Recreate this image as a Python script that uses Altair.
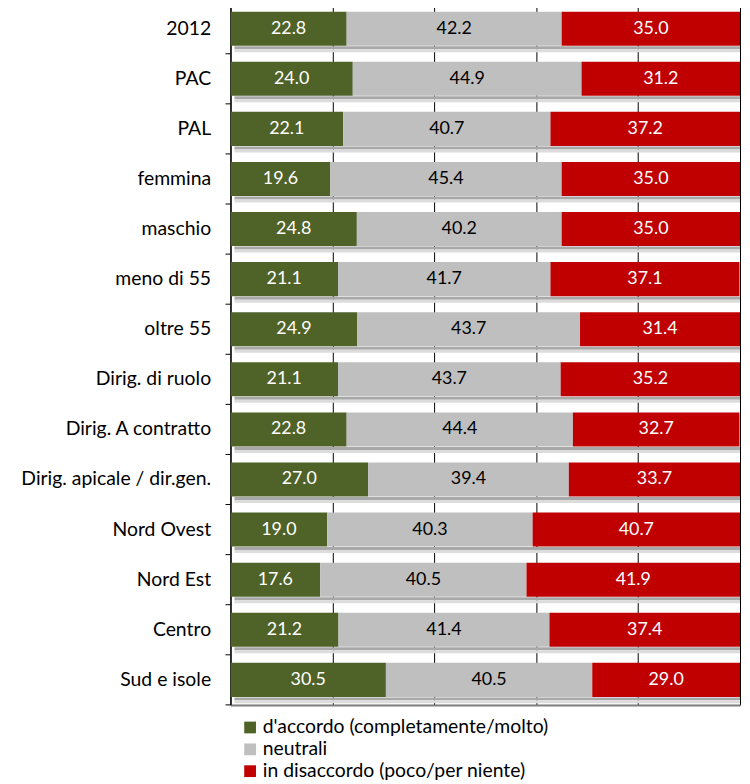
import altair as alt
import pandas as pd

categories = ["2012", "PAC", "PAL", "femmina", "maschio", "meno di 55", "oltre 55",
              "Dirig. di ruolo", "Dirig. A contratto", "Dirig. apicale / dir.gen.",
              "Nord Ovest", "Nord Est", "Centro", "Sud e isole"]
accordo = [22.8, 24.0, 22.1, 19.6, 24.8, 21.1, 24.9, 21.1, 22.8, 27.0, 19.0, 17.6, 21.2, 30.5]
neutrali = [42.2, 44.9, 40.7, 45.4, 40.2, 41.7, 43.7, 43.7, 44.4, 39.4, 40.3, 40.5, 41.4, 40.5]
disaccordo = [35.0, 31.2, 37.2, 35.0, 35.0, 37.1, 31.4, 35.2, 32.7, 33.7, 40.7, 41.9, 37.4, 29.0]
series = ["d'accordo (completamente/molto)", "neutrali", "in disaccordo (poco/per niente)"]
colors = ["#4F6228", "#BFBFBF", "#C00000"]
text_colors = ["white", "black", "white"]

rows = []
for i, c in enumerate(categories):
    start = 0.0
    for k, vals in enumerate([accordo, neutrali, disaccordo]):
        v = vals[i]
        end = min(start + v, 100.0)
        rows.append({"cat": c, "serie": series[k], "ord": k, "val": v,
                     "start": start, "end": end, "mid": (start + end) / 2,
                     "label": f"{v:.1f}", "tcol": text_colors[k]})
        start += v
df = pd.DataFrame(rows)

W, H = 513, 706
step = H / 14.0
FONT = "Lato"

yenc = alt.Y("cat:N", sort=categories,
             scale=alt.Scale(paddingInner=0.32, paddingOuter=0.16),
             axis=alt.Axis(title=None, labelFontSize=19.5, labelColor="black", labelFont=FONT,
                           ticks=False, domainColor="black", domainWidth=1,
                           labelPadding=20, minExtent=224, maxExtent=224, labelLimit=300))
xscale = alt.Scale(domain=[0, 100], nice=False)
xaxis = alt.Axis(title=None, labels=False, ticks=False, grid=True, gridColor="black",
                 gridWidth=1, values=[0, 20, 40, 60, 80, 100], domainColor="#808080", domainWidth=2)

base = alt.Chart(df)

shadow1 = alt.Chart(pd.DataFrame({"cat": categories})).mark_rule(
    yOffset=step * 0.34 + 2, strokeWidth=3, color="#a8a8a8").encode(
    y=yenc, x=alt.value(4), x2=alt.value(W))
shadow2 = alt.Chart(pd.DataFrame({"cat": categories})).mark_rule(
    yOffset=step * 0.34 + 5, strokeWidth=3, color="#dcdcdc").encode(
    y=alt.Y("cat:N", sort=categories), x=alt.value(4), x2=alt.value(W))

bars = base.mark_bar(clip=True).encode(
    y=alt.Y("cat:N", sort=categories),
    x=alt.X("start:Q", scale=xscale, axis=xaxis),
    x2="end:Q",
    color=alt.Color("serie:N", sort=series,
                    scale=alt.Scale(domain=series, range=colors),
                    legend=alt.Legend(title=None, orient="none", legendX=10, legendY=H + 13,
                                      symbolType="square", symbolSize=140, symbolStrokeWidth=0,
                                      labelFontSize=19.5, labelFont=FONT, labelColor="black",
                                      rowPadding=1, labelLimit=400, labelOffset=3)),
    order=alt.Order("ord:Q"),
)

texts = base.mark_text(fontSize=18, font=FONT).encode(
    y=alt.Y("cat:N", sort=categories),
    x=alt.X("mid:Q", scale=xscale),
    text="label:N",
    color=alt.Color("tcol:N", scale=None),
)

ticks = alt.Chart(pd.DataFrame({"cat": categories})).mark_rule(
    yOffset=-step / 2, color="black").encode(
    y=alt.Y("cat:N", sort=categories), x=alt.value(-5), x2=alt.value(0))
bottom_tick = alt.Chart(pd.DataFrame({"a": [0]})).mark_rule(color="black").encode(
    y=alt.value(H), x=alt.value(-5), x2=alt.value(0))

chart = alt.layer(shadow1, shadow2, bars, texts, ticks, bottom_tick).properties(
    width=W, height=H, padding={"top": -8, "left": 0, "right": 0, "bottom": 0}
).configure_view(stroke="#808080", strokeWidth=1)

chart.save("out.html", embed_options={"renderer": "svg", "actions": False})
